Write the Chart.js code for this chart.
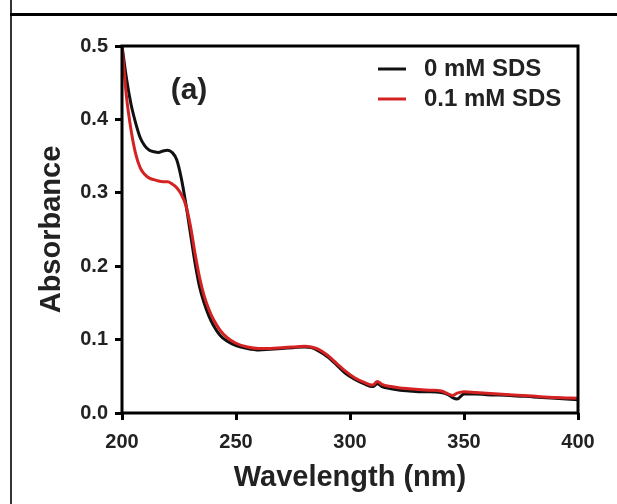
<!DOCTYPE html>
<html>
<head>
<meta charset="utf-8">
<script src="https://cdn.jsdelivr.net/npm/chart.js@4/dist/chart.umd.min.js"></script>
<style>
  html, body { margin: 0; padding: 0; background: #fff; }
  #wrap { width: 617px; height: 504px; }
</style>
</head>
<body>
<div id="wrap"><canvas id="uv"></canvas></div>
<script>
// wavelengths (nm) shared by both spectra
var wavelengths = [200, 202, 204, 206, 208, 210, 212, 214, 216, 218, 220, 222, 224, 226, 228, 230, 232, 234, 236, 238, 240, 243, 246, 250, 255, 260, 265, 270, 275, 280, 283, 286, 290, 294, 298, 302, 306, 310, 312, 314, 318, 322, 326, 330, 335, 340, 343, 345, 347, 350, 355, 360, 370, 380, 390, 400];

var abs0mM = [0.500, 0.455, 0.420, 0.395, 0.375, 0.364, 0.358, 0.356, 0.355, 0.357, 0.358, 0.355, 0.345, 0.320, 0.285, 0.245, 0.205, 0.172, 0.150, 0.133, 0.120, 0.106, 0.098, 0.092, 0.088, 0.086, 0.087, 0.088, 0.089, 0.090, 0.089, 0.085, 0.077, 0.066, 0.054, 0.046, 0.040, 0.036, 0.040, 0.036, 0.033, 0.031, 0.030, 0.029, 0.029, 0.028, 0.025, 0.021, 0.019, 0.026, 0.026, 0.025, 0.024, 0.022, 0.020, 0.018];

var abs01mM = [0.500, 0.430, 0.385, 0.353, 0.334, 0.325, 0.320, 0.318, 0.316, 0.315, 0.315, 0.312, 0.307, 0.298, 0.283, 0.255, 0.218, 0.185, 0.160, 0.142, 0.128, 0.113, 0.103, 0.095, 0.090, 0.088, 0.088, 0.089, 0.090, 0.091, 0.090, 0.087, 0.079, 0.068, 0.057, 0.048, 0.042, 0.038, 0.043, 0.039, 0.036, 0.034, 0.033, 0.032, 0.031, 0.030, 0.026, 0.024, 0.027, 0.029, 0.028, 0.027, 0.025, 0.023, 0.021, 0.020];

var seriesLabels = ['0 mM SDS', '0.1 mM SDS'];
var seriesColors = ['#111111', '#d42222'];
var xTicks = [200, 250, 300, 350, 400];
var yTicks = [0.0, 0.1, 0.2, 0.3, 0.4, 0.5];

function toPoints(ys) {
    return wavelengths.map(function (w, i) { return { x: w, y: ys[i] }; });
}

// outer frame, plot box, panel tag and legend
var extras = {
    id: 'extras',
    afterDraw: function (chart) {
        var ctx = chart.ctx;
        var a = chart.chartArea;
        ctx.save();
        // page frame
        ctx.strokeStyle = '#333';
        ctx.lineWidth = 2;
        ctx.beginPath();
        ctx.moveTo(11, 0);
        ctx.lineTo(11, 504);
        ctx.stroke();
        ctx.strokeStyle = '#000';
        ctx.lineWidth = 3;
        ctx.beginPath();
        ctx.moveTo(10, 14.5);
        ctx.lineTo(617, 14.5);
        ctx.stroke();
        // plot box
        ctx.lineWidth = 3;
        ctx.strokeStyle = '#000';
        ctx.strokeRect(a.left, a.top, a.right - a.left, a.bottom - a.top);
        // (a)
        ctx.fillStyle = '#222';
        ctx.font = 'bold 30px "Liberation Sans", Arial, sans-serif';
        ctx.textAlign = 'center';
        ctx.textBaseline = 'middle';
        ctx.fillText('(a)', 189, 91);
        // legend
        ctx.font = 'bold 24px "Liberation Sans", Arial, sans-serif';
        ctx.textAlign = 'left';
        chart.data.datasets.forEach(function (ds, i) {
            var y = 69 + i * 30;
            ctx.strokeStyle = ds.borderColor;
            ctx.lineWidth = 3;
            ctx.beginPath();
            ctx.moveTo(378, y);
            ctx.lineTo(406, y);
            ctx.stroke();
            ctx.fillStyle = '#222';
            ctx.fillText(ds.label, 424, y);
        });
        ctx.restore();
    }
};

new Chart(document.getElementById('uv'), {
    type: 'line',
    data: {
        datasets: [
            { label: seriesLabels[0], data: toPoints(abs0mM), borderColor: seriesColors[0], order: 2 },
            { label: seriesLabels[1], data: toPoints(abs01mM), borderColor: seriesColors[1], order: 1 }
        ]
    },
    options: {
        responsive: true,
        maintainAspectRatio: false,
        animation: false,
        layout: { padding: { top: 46, right: 39, left: 0, bottom: 0 } },
        elements: {
            point: { radius: 0 },
            line: { borderWidth: 3, tension: 0.3, cubicInterpolationMode: 'monotone' }
        },
        plugins: { legend: { display: false }, tooltip: { enabled: false } },
        scales: {
            x: {
                type: 'linear',
                min: 200,
                max: 400,
                afterFit: function (s) { s.height = 91; },
                afterBuildTicks: function (s) { s.ticks = xTicks.map(function (v) { return { value: v }; }); },
                border: { display: false },
                grid: { drawOnChartArea: false, drawTicks: true, tickLength: 7, tickWidth: 3, tickColor: '#000' },
                ticks: { color: '#222', padding: 10, font: { family: '"Liberation Sans", Arial', size: 20, weight: 'bold' }, maxRotation: 0 },
                title: { display: true, text: 'Wavelength (nm)', color: '#222', padding: { top: 0, bottom: 9 }, font: { family: '"Liberation Sans", Arial', size: 29, weight: 'bold' } }
            },
            y: {
                min: 0,
                max: 0.5,
                afterFit: function (s) { s.width = 122; },
                afterBuildTicks: function (s) { s.ticks = yTicks.map(function (v) { return { value: v }; }); },
                border: { display: false },
                grid: { drawOnChartArea: false, drawTicks: true, tickLength: 7, tickWidth: 3, tickColor: '#000' },
                ticks: { color: '#222', padding: 7, font: { family: '"Liberation Sans", Arial', size: 20, weight: 'bold' }, callback: function (v) { return v.toFixed(1); } },
                title: { display: true, text: 'Absorbance', color: '#222', padding: { top: 35, bottom: 0 }, font: { family: '"Liberation Sans", Arial', size: 29, weight: 'bold' } }
            }
        }
    },
    plugins: [extras]
});
</script>
</body>
</html>
